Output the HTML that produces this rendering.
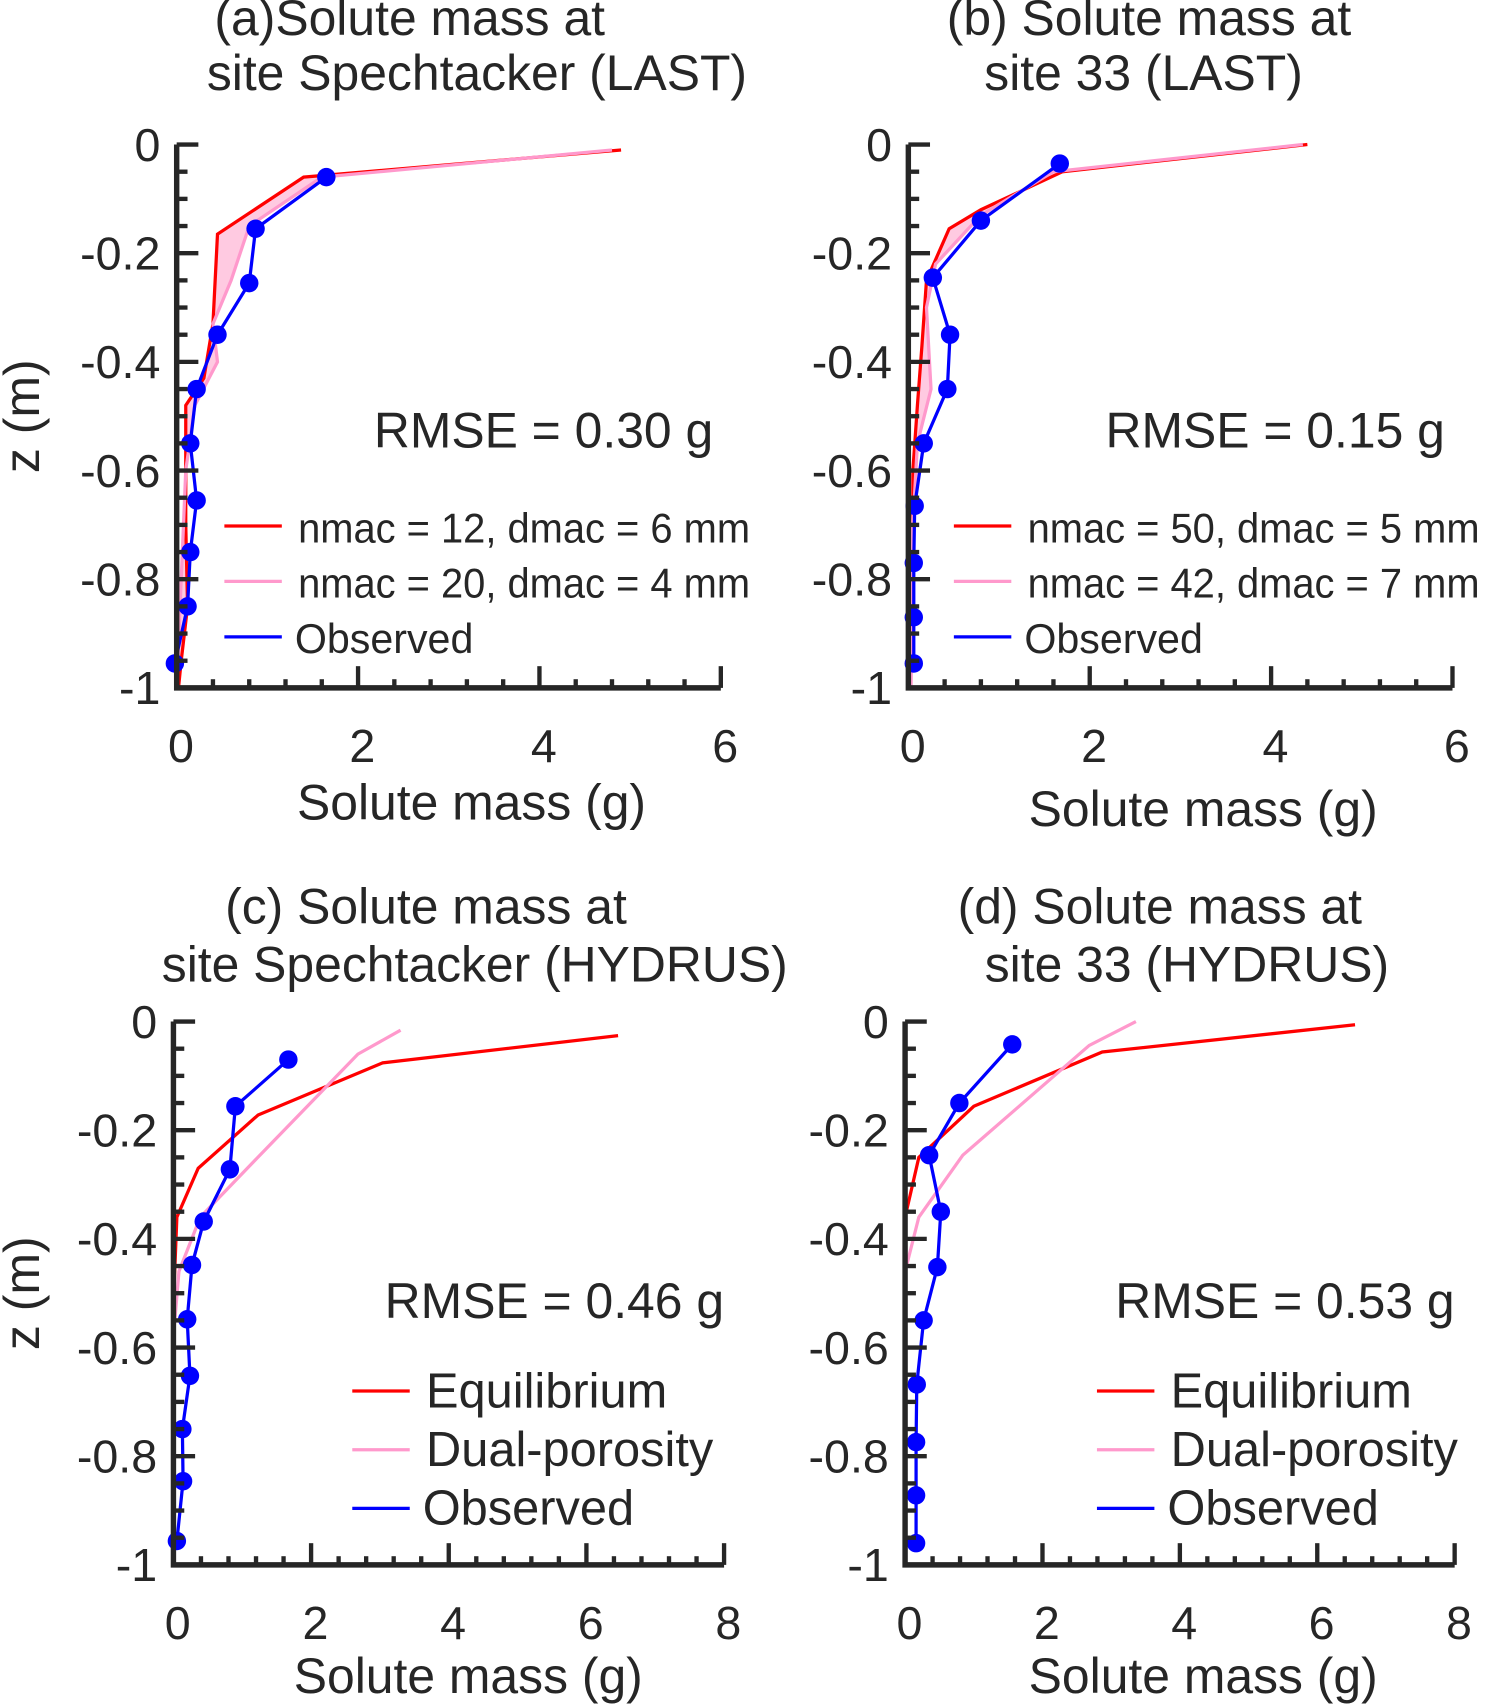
<!DOCTYPE html>
<html><head><meta charset="utf-8">
<style>
html,body{margin:0;padding:0;background:#fff;}
svg{display:block;}
text{font-family:"Liberation Sans","DejaVu Sans",sans-serif;fill:#262626;}
</style></head>
<body>
<svg id="chart" width="1485" height="1704" viewBox="0 0 1370 1568" preserveAspectRatio="none" xmlns="http://www.w3.org/2000/svg"></svg>
<script>
// ---- data ----
const aRedX=[4.9,1.4,0.45,0.4,0.3,0.1,0.1,0.12,0.05,0.02];
const aRedZ=[-0.01,-0.06,-0.165,-0.33,-0.43,-0.48,-0.7,-0.85,-0.95,-1.0];
const aPinkX=[4.8,1.6,0.8,0.6,0.4,0.45,0.2,0.1,0.05,0.0];
const aPinkZ=[-0.01,-0.06,-0.15,-0.25,-0.33,-0.4,-0.48,-0.6,-0.8,-1.0];
const aObsX=[1.65,0.87,0.8,0.45,0.22,0.15,0.22,0.15,0.12,-0.02];
const aObsZ=[-0.06,-0.155,-0.255,-0.35,-0.45,-0.55,-0.655,-0.75,-0.85,-0.955];

const bRedX=[4.4,1.7,0.8,0.45,0.2,0.15,0.1,0.05,0.05,0.02];
const bRedZ=[0,-0.05,-0.12,-0.155,-0.25,-0.37,-0.48,-0.6,-0.8,-1.0];
const bPinkX=[4.35,1.6,0.8,0.3,0.2,0.25,0.1,0.05,0.03];
const bPinkZ=[0,-0.05,-0.13,-0.22,-0.3,-0.45,-0.55,-0.7,-1.0];
const bObsX=[1.67,0.8,0.27,0.46,0.43,0.17,0.07,0.06,0.06,0.06];
const bObsZ=[-0.035,-0.14,-0.245,-0.35,-0.45,-0.55,-0.665,-0.77,-0.87,-0.955];

const cRedX=[6.46,3.04,1.23,0.36,0.05,0.0,0.0];
const cRedZ=[-0.026,-0.076,-0.172,-0.27,-0.36,-0.52,-1.0];
const cPinkX=[3.3,2.68,1.18,0.39,0.08,0.0,0.0];
const cPinkZ=[-0.016,-0.06,-0.256,-0.36,-0.46,-0.58,-1.0];
const cObsX=[1.67,0.9,0.82,0.44,0.27,0.2,0.24,0.13,0.14,0.05];
const cObsZ=[-0.07,-0.156,-0.272,-0.368,-0.448,-0.548,-0.652,-0.75,-0.846,-0.956];

const dRedX=[6.55,2.87,1.0,0.2,0.0,0.0];
const dRedZ=[-0.006,-0.056,-0.156,-0.25,-0.36,-1.0];
const dPinkX=[3.36,2.68,0.84,0.2,0.0,0.0];
const dPinkZ=[0,-0.044,-0.246,-0.36,-0.46,-1.0];
const dObsX=[1.56,0.79,0.35,0.52,0.47,0.27,0.17,0.16,0.16,0.16];
const dObsZ=[-0.042,-0.15,-0.246,-0.35,-0.452,-0.55,-0.668,-0.774,-0.872,-0.96];

const yTickLabels=["0","-0.2","-0.4","-0.6","-0.8","-1"];
const xTicksLAST=["0","2","4","6"];
const xTicksHYD=["0","2","4","6","8"];

const svg=document.getElementById('chart');
const NS='http://www.w3.org/2000/svg';
function mk(tag,attrs,parent){const e=document.createElementNS(NS,tag);for(const k in attrs)e.setAttribute(k,attrs[k]);(parent||svg).appendChild(e);return e;}
function txt(s,x,y,size,anchor,parent){const t=mk('text',{x:x,y:y,'font-size':size,'text-anchor':anchor||'start'},parent);t.textContent=s;return t;}

function panel(cfg){
  const g=mk('g',{});
  
  
  const X=v=>cfg.x0+(v/cfg.xmax)*(cfg.x1-cfg.x0);
  const Y=v=>cfg.y0+(-v)*(cfg.y1-cfg.y0);
  const t1=txt(cfg.t1,cfg.t1x,cfg.t1y,46,'middle',g);
  
  const t2=txt(cfg.t2,cfg.t2x,cfg.t2y,46,'middle',g);
  
  if(cfg.fill){
    let pts=cfg.redX.map((v,i)=>X(v)+','+Y(cfg.redZ[i]));
    for(let i=cfg.pinkX.length-1;i>=0;i--)pts.push(X(cfg.pinkX[i])+','+Y(cfg.pinkZ[i]));
    const f=mk('polygon',{points:pts.join(' '),fill:'#ff9ec8','fill-opacity':0.55,stroke:'none'},g);
    
  }
  const rd=mk('polyline',{points:cfg.redX.map((v,i)=>X(v)+','+Y(cfg.redZ[i])).join(' '),fill:'none',stroke:'#ff0000','stroke-width':3},g);
  
  const pk=mk('polyline',{points:cfg.pinkX.map((v,i)=>X(v)+','+Y(cfg.pinkZ[i])).join(' '),fill:'none',stroke:'#ff99cc','stroke-width':3},g);
  
  const ob=mk('polyline',{points:cfg.obsX.map((v,i)=>X(v)+','+Y(cfg.obsZ[i])).join(' '),fill:'none',stroke:'#0000ff','stroke-width':3},g);
  
  cfg.obsX.forEach((v,i)=>{
    const c=mk('circle',{cx:X(v),cy:Y(cfg.obsZ[i]),r:8.5,fill:'#0000ff'},g);
    
    
  });
  const ax=mk('path',{d:`M${cfg.x0},${cfg.y0} V${cfg.y1} H${cfg.x1}`,fill:'none',stroke:'#262626','stroke-width':5},g);
  
  for(let k=0;k<=20;k++){
    const y=cfg.y0+k*(cfg.y1-cfg.y0)/20;
    const len=(k%4===0)?20:10;
    mk('line',{x1:cfg.x0,x2:cfg.x0+len,y1:y,y2:y,stroke:'#262626','stroke-width':4},g);
  }
  const nMinor=Math.round(cfg.xmax/0.4);
  for(let k=0;k<=nMinor;k++){
    const v=k*0.4;const x=X(v);
    const major=Math.abs(v/2-Math.round(v/2))<1e-6;
    mk('line',{x1:x,x2:x,y1:cfg.y1,y2:cfg.y1-(major?20:8),stroke:'#262626','stroke-width':4},g);
  }
  yTickLabels.forEach((s,i)=>{
    const t=txt(s,cfg.x0-15,cfg.y0+i*(cfg.y1-cfg.y0)/5+15,43,'end',g);
    
  });
  cfg.xticks.forEach((s,i)=>{
    const t=txt(s,X(i*2)+4,cfg.y1+68,43,'middle',g);
    
  });
  const xl=txt('Solute mass (g)',cfg.xlx,cfg.xly,46,'middle',g);
  
  if(cfg.ylab){
    const yl=txt('z (m)',0,0,46,'middle',g);
    yl.setAttribute('transform',`translate(36,${(cfg.y0+cfg.y1)/2}) rotate(-90)`);
    
  }
  const rm=txt(cfg.rmse,cfg.rx,cfg.ry,46,'end',g);
  
  const cols=['#ff0000','#ff99cc','#0000ff'];
  cfg.leg.forEach((s,i)=>{
    const ly=cfg.ly+i*cfg.ldy;
    const lg=mk('g',{},g);
    
    
    mk('line',{x1:cfg.lx,x2:cfg.lx+53,y1:ly,y2:ly,stroke:cols[i],'stroke-width':3},lg);
    const t=txt(s,cfg.lx+(i===2?65:68),ly+15,cfg.lfs,'start',lg);
    if(cfg.ltl&&i<2){t.setAttribute('textLength',cfg.ltl);t.setAttribute('lengthAdjust','spacingAndGlyphs');}
  });
}

panel({name:'panel-a',x0:163,x1:665,y0:133,y1:633,xmax:6,redX:aRedX,redZ:aRedZ,pinkX:aPinkX,pinkZ:aPinkZ,obsX:aObsX,obsZ:aObsZ,fill:true,
  t1:'(a)Solute mass at',t1x:378,t1y:32,t2:'site Spechtacker (LAST)',t2x:440,t2y:83,xticks:xTicksLAST,xlx:435,xly:754,ylab:true,
  rmse:'RMSE = 0.30 g',rx:658,ry:412,leg:['nmac = 12, dmac = 6 mm','nmac = 20, dmac = 4 mm','Observed'],lx:207,ly:484,ldy:51,lfs:38,ltl:417});
panel({name:'panel-b',x0:838,x1:1340,y0:133,y1:633,xmax:6,redX:bRedX,redZ:bRedZ,pinkX:bPinkX,pinkZ:bPinkZ,obsX:bObsX,obsZ:bObsZ,fill:true,
  t1:'(b) Solute mass at',t1x:1060,t1y:32,t2:'site 33 (LAST)',t2x:1055,t2y:83,xticks:xTicksLAST,xlx:1110,xly:760,ylab:false,
  rmse:'RMSE = 0.15 g',rx:1333,ry:412,leg:['nmac = 50, dmac = 5 mm','nmac = 42, dmac = 7 mm','Observed'],lx:880,ly:484,ldy:51,lfs:38,ltl:417});
panel({name:'panel-c',x0:160,x1:668,y0:940,y1:1440,xmax:8,redX:cRedX,redZ:cRedZ,pinkX:cPinkX,pinkZ:cPinkZ,obsX:cObsX,obsZ:cObsZ,fill:false,
  t1:'(c) Solute mass at',t1x:393,t1y:850,t2:'site Spechtacker (HYDRUS)',t2x:438,t2y:903,xticks:xTicksHYD,xlx:432,xly:1558,ylab:true,
  rmse:'RMSE = 0.46 g',rx:668,ry:1213,leg:['Equilibrium','Dual-porosity','Observed'],lx:325,ly:1280,ldy:54,lfs:45});
panel({name:'panel-d',x0:835,x1:1342,y0:940,y1:1440,xmax:8,redX:dRedX,redZ:dRedZ,pinkX:dPinkX,pinkZ:dPinkZ,obsX:dObsX,obsZ:dObsZ,fill:false,
  t1:'(d) Solute mass at',t1x:1070,t1y:850,t2:'site 33 (HYDRUS)',t2x:1095,t2y:903,xticks:xTicksHYD,xlx:1110,xly:1558,ylab:false,
  rmse:'RMSE = 0.53 g',rx:1342,ry:1213,leg:['Equilibrium','Dual-porosity','Observed'],lx:1012,ly:1280,ldy:54,lfs:45});
</script>
</body></html>
